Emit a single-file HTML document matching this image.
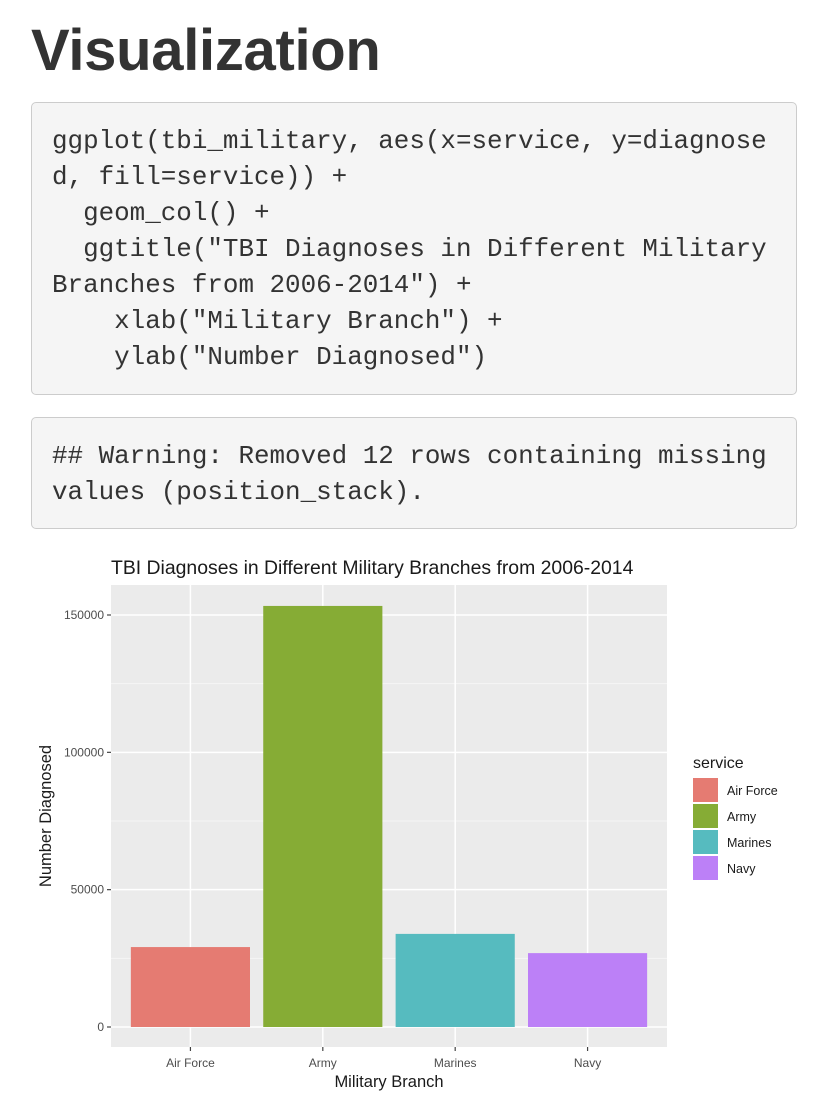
<!DOCTYPE html>
<html><head><meta charset="utf-8"><style>
body{margin:0;width:828px;height:1104px;background:#fff;overflow:hidden;font-family:"Liberation Sans",sans-serif}
h1{position:absolute;left:31px;top:17px;margin:0;font-size:58px;font-weight:bold;color:#333;letter-spacing:-0.3px}
pre{position:absolute;left:31px;width:766px;margin:0;background:#f5f5f5;border:1px solid #ccc;border-radius:5px;font-family:"Liberation Mono",monospace;font-size:25.9px;line-height:36px;color:#333;padding:0 0 0 20px;box-sizing:border-box;white-space:pre}
</style></head><body>
<h1>Visualization</h1>
<pre style="top:102px;height:293px;padding-top:20px">ggplot(tbi_military, aes(x=service, y=diagnose
d, fill=service)) +
  geom_col() +
  ggtitle("TBI Diagnoses in Different Military
Branches from 2006-2014") +
    xlab("Military Branch") +
    ylab("Number Diagnosed")</pre>
<pre style="top:417px;height:112px;padding-top:20px">## Warning: Removed 12 rows containing missing
values (position_stack).</pre>
<svg id="chart" width="828" height="1104" style="position:absolute;left:0;top:0" font-family="Liberation Sans, sans-serif"></svg>
<script>
const categories=["Air Force","Army","Marines","Navy"];
const values=[29100,153300,33900,26900];
const colors=["#e57b72","#86ac35","#56bbbf","#bc80f7"];
const yTicks=[0,50000,100000,150000];
const yTickLabels=["0","50000","100000","150000"];
const svg=document.getElementById('chart');
const NS='http://www.w3.org/2000/svg';
const L=111,R=667,T=585,B=1047;
const y=v=>1027-v*(412/150000);
const step=(R-L)/(categories.length+0.2);
const x=i=>L+step*(0.6+i);
function mk(tag,attrs,parent){const e=document.createElementNS(NS,tag);for(const k in attrs)e.setAttribute(k,attrs[k]);(parent||svg).appendChild(e);return e;}
let e=mk('rect',{x:L,y:T,width:R-L,height:B-T,fill:'#ebebeb'});


for(let i=0;i<yTicks.length-1;i++){const m=(yTicks[i]+yTicks[i+1])/2;mk('line',{x1:L,x2:R,y1:y(m),y2:y(m),stroke:'#f5f5f5','stroke-width':1});}
yTicks.forEach((t,i)=>{
 e=mk('line',{x1:L,x2:R,y1:y(t),y2:y(t),stroke:'#fff','stroke-width':1.5});
 
 
 mk('line',{x1:L-4,x2:L,y1:y(t),y2:y(t),stroke:'#444','stroke-width':1.2});
 e=mk('text',{x:L-7,y:y(t)+4,'text-anchor':'end','font-size':12,fill:'#4d4d4d'});e.textContent=yTickLabels[i];
 
 
});
categories.forEach((c,i)=>{
 mk('line',{x1:x(i),x2:x(i),y1:T,y2:B,stroke:'#fff','stroke-width':1.5});
});
categories.forEach((c,i)=>{
 const w=step*0.9;
 e=mk('rect',{x:x(i)-w/2,y:y(values[i]),width:w,height:y(0)-y(values[i]),fill:colors[i]});
 
 
 mk('line',{x1:x(i),x2:x(i),y1:B,y2:B+4,stroke:'#444','stroke-width':1.2});
 e=mk('text',{x:x(i),y:B+20,'text-anchor':'middle','font-size':12,fill:'#4d4d4d'});e.textContent=c;
 
 
 e=mk('rect',{x:693,y:778+26*i,width:25,height:24,fill:colors[i]});
 
 
 e=mk('text',{x:727,y:795+26*i,'font-size':12.5,fill:'#1a1a1a'});e.textContent=c;
 
 
});
e=mk('text',{x:693,y:768,'font-size':16,fill:'#1a1a1a'});e.textContent='service';


e=mk('text',{x:111,y:574,'font-size':19.4,fill:'#1a1a1a'});e.textContent='TBI Diagnoses in Different Military Branches from 2006-2014';


e=mk('text',{x:(L+R)/2,y:1087,'text-anchor':'middle','font-size':16.5,fill:'#1a1a1a'});e.textContent='Military Branch';


e=mk('text',{x:51,y:(T+B)/2,'text-anchor':'middle','font-size':16.5,fill:'#1a1a1a',transform:`rotate(-90 51 ${(T+B)/2})`});e.textContent='Number Diagnosed';


</script>
</body></html>
